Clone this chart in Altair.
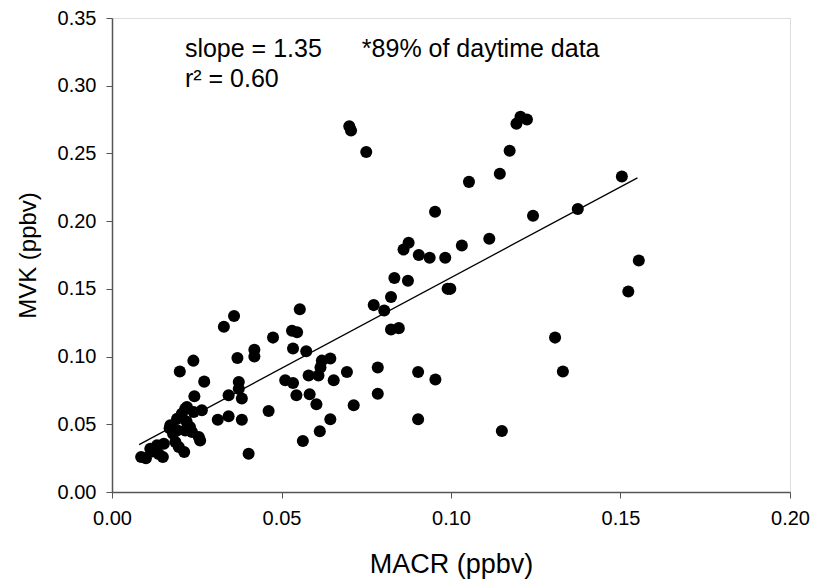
import altair as alt
import pandas as pd

# Scatter data (MACR vs MVK, ppbv)
macr = [0.0700, 0.0705, 0.0750,
        0.1193, 0.1205, 0.1224, 0.1173, 0.1144, 0.1053, 0.0953, 0.1242, 0.1374,
        0.1504, 0.1113, 0.1032, 0.0937, 0.0983, 0.1554, 0.1523,
        0.0998, 0.0990,
        0.0833, 0.0873, 0.0823, 0.0772, 0.0803,
        0.0823, 0.0846,
        0.0860, 0.0875, 0.0905,
        0.1307, 0.1330, 0.1150,
        0.0903, 0.0954, 0.0903, 0.0784, 0.0784, 0.0713, 0.0693,
        0.0644, 0.0613, 0.0563,
        0.0654, 0.0603, 0.0583, 0.0544, 0.0511, 0.0534,
        0.0580, 0.0609, 0.0615,
        0.0619, 0.0644,
        0.0534, 0.0573,
        0.0531, 0.0546, 0.0554,
        0.0475,
        0.0462, 0.0403,
        0.0374, 0.0374, 0.0383, 0.0344, 0.0383, 0.0344, 0.0312,
        0.0330, 0.0360, 0.0370, 0.0420, 0.0420,
        0.0272, 0.0243, 0.0265, 0.0241, 0.0221, 0.0216, 0.0206, 0.0192, 0.0172,
        0.0192, 0.0216, 0.0236, 0.0256, 0.0260, 0.0187, 0.0197, 0.0213, 0.0153,
        0.0133, 0.0113, 0.0150, 0.0138, 0.0086, 0.0100, 0.0120,
        0.0200, 0.0240,
        0.0170, 0.0180, 0.0220, 0.0230]
mvk = [0.270, 0.267, 0.251,
       0.272, 0.277, 0.275, 0.252, 0.235, 0.229, 0.207, 0.204, 0.209,
       0.233, 0.187, 0.182, 0.173, 0.173, 0.171, 0.148,
       0.150, 0.150,
       0.158, 0.156, 0.144, 0.138, 0.134,
       0.120, 0.121,
       0.179, 0.184, 0.175,
       0.114, 0.089, 0.045,
       0.0886, 0.083, 0.0537, 0.092, 0.0726, 0.064, 0.0886,
       0.0537, 0.0448, 0.0377,
       0.0825, 0.0648, 0.0722, 0.0714, 0.0825, 0.0805,
       0.086, 0.086, 0.092,
       0.097, 0.0985,
       0.106, 0.104,
       0.119, 0.118, 0.135,
       0.114,
       0.0598, 0.0283,
       0.0812, 0.0763, 0.069, 0.0714, 0.0534, 0.0559, 0.0534,
       0.122, 0.130, 0.099, 0.105, 0.100,
       0.0815, 0.0707, 0.0603, 0.059, 0.0628, 0.0615, 0.0578, 0.0541, 0.0492,
       0.0455, 0.0455, 0.0443, 0.0406, 0.038, 0.0369, 0.0332, 0.0295, 0.0357,
       0.0345, 0.032, 0.0258, 0.028, 0.0258, 0.025, 0.030,
       0.089, 0.097,
       0.047, 0.043, 0.052, 0.048]

# Regression line end points
fit_x = [0.008, 0.155]
fit_y = [0.035, 0.232]

# Annotations
note_text = ["slope = 1.35", "r\u00b2 = 0.60", "*89% of daytime data"]
note_x = [0.0215, 0.0215, 0.0737]
note_y = [0.321, 0.299, 0.321]

x_ticks = [0.0, 0.05, 0.10, 0.15, 0.20]
y_ticks = [0.0, 0.05, 0.10, 0.15, 0.20, 0.25, 0.30, 0.35]

FONT = "Liberation Sans"

pts = pd.DataFrame({"MACR": macr, "MVK": mvk})
fit = pd.DataFrame({"MACR": fit_x, "MVK": fit_y})
notes = pd.DataFrame({"t": note_text, "MACR": note_x, "MVK": note_y})

xs = alt.Scale(domain=[0, 0.20], nice=False, zero=False)
ys = alt.Scale(domain=[0, 0.35], nice=False, zero=False)

x_axis = alt.Axis(values=x_ticks, format=".2f", title="MACR (ppbv)", grid=False,
                  tickSize=6, labelPadding=10, labelFontSize=20, titleFontSize=27,
                  labelFlush=False,
                  titleFontWeight="normal", titleY=80, titleBaseline="alphabetic",
                  labelFont=FONT, titleFont=FONT, labelColor="black", titleColor="black",
                  domainColor="#555", tickColor="#555", domainWidth=1.5)
y_axis = alt.Axis(values=y_ticks, format=".2f", title="MVK (ppbv)", grid=False,
                  tickSize=6, labelPadding=10, labelFontSize=20, titleFontSize=24,
                  labelFlush=False,
                  titleFontWeight="normal", titleX=-84, titleY=237, titleAngle=-90,
                  titleAlign="center", titleBaseline="middle",
                  labelFont=FONT, titleFont=FONT, labelColor="black", titleColor="black",
                  domainColor="#555", tickColor="#555", domainWidth=1.5)

points = alt.Chart(pts).mark_circle(size=145, color="black", opacity=1).encode(
    x=alt.X("MACR:Q", scale=xs, axis=x_axis),
    y=alt.Y("MVK:Q", scale=ys, axis=y_axis),
)

line = alt.Chart(fit).mark_line(color="black", strokeWidth=1.3).encode(
    x=alt.X("MACR:Q", scale=xs),
    y=alt.Y("MVK:Q", scale=ys),
)

texts = alt.Chart(notes).mark_text(align="left", baseline="alphabetic", fontSize=25,
                                   font=FONT, color="black").encode(
    x=alt.X("MACR:Q", scale=xs),
    y=alt.Y("MVK:Q", scale=ys),
    text="t:N",
)

chart = alt.layer(points, line, texts).properties(
    width=678, height=474,
    padding={"left": 104, "top": 10, "right": 21, "bottom": 88},
    autosize=alt.AutoSizeParams(type="none"),
).configure_view(stroke="#555", strokeWidth=1.5).configure(background="white")

chart.save("out.html", embed_options={"renderer": "svg", "actions": False})
